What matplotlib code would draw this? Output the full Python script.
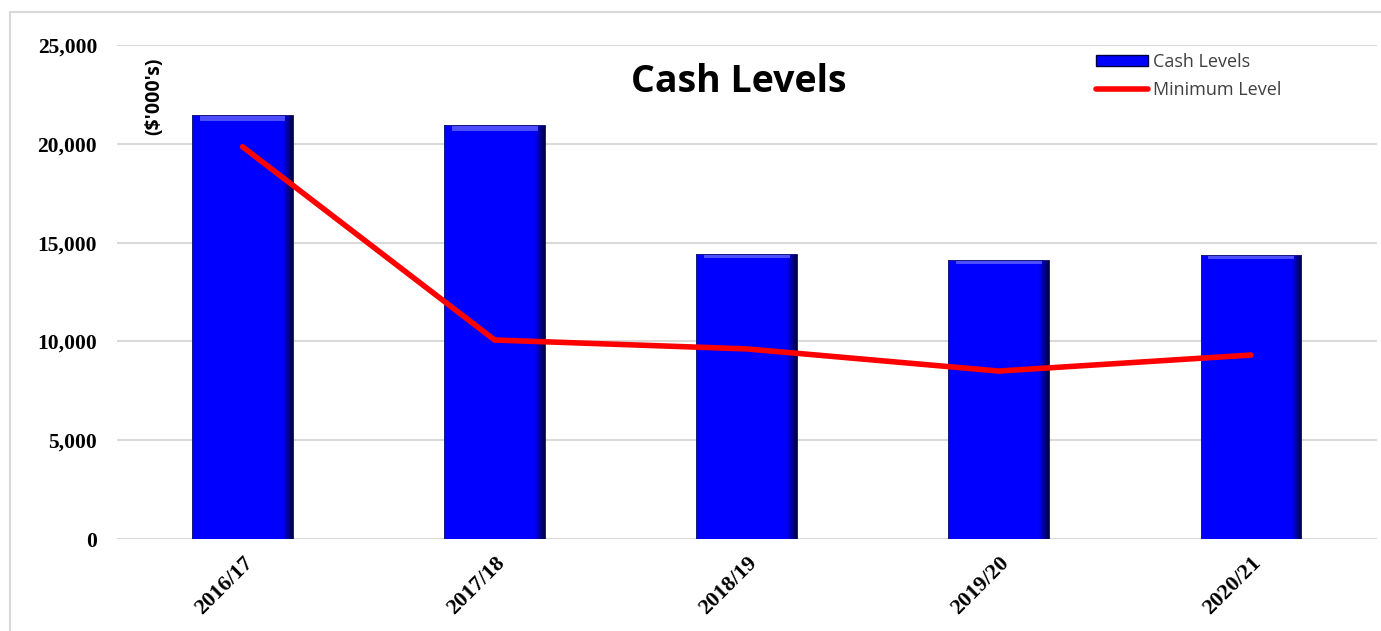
import numpy as np
import matplotlib
matplotlib.use("Agg")
from matplotlib import pyplot as plt
from matplotlib.lines import Line2D
from matplotlib.patches import Patch

years = ["2016/17", "2017/18", "2018/19", "2019/20", "2020/21"]
cash_levels = [21450, 20950, 14420, 14120, 14370]
minimum_level = [19850, 10070, 9620, 8500, 9310]
y_ticks = [0, 5000, 10000, 15000, 20000, 25000]

fig = plt.figure(figsize=(13.81, 6.31), dpi=100)
ax = fig.add_axes([116.5 / 1381, 0.1458, 1260.5 / 1381, 0.7829])

x = np.arange(len(years))
bars = ax.bar(x, cash_levels, width=0.4, color="#0000FF",
              linewidth=0, zorder=2)

# bevel-ish shading: horizontal gradient clipped to each bar
grad = np.linspace(0, 1, 256)
shade = np.clip((grad - 0.9) / 0.1, 0, 1)
img = np.zeros((1, 256, 4))
img[..., 2] = 1.0 - 0.75 * shade
img[..., 3] = 1.0
for b in bars:
    x0, w, h = b.get_x(), b.get_width(), b.get_height()
    im = ax.imshow(img, extent=(x0, x0 + w, 0, h), aspect="auto",
                   interpolation="bilinear", zorder=2.5)
    im.set_clip_path(b)
    # lighter strip at top
    ax.bar(x0 + w / 2, h * 0.012, bottom=h * 0.985, width=w * 0.85,
           color="#4D4DFF", linewidth=0, zorder=2.6)
ax.bar(x, cash_levels, width=0.4, fill=False, edgecolor="#1A1A80",
       linewidth=0.7, zorder=2.7)

ax.plot(x, minimum_level, color="#FF0000", linewidth=4,
        solid_capstyle="round", solid_joinstyle="round", zorder=3)

ax.set_xlim(-0.5, len(years) - 0.5)
ax.set_ylim(0, 25000)
ax.set_yticks(y_ticks)
ax.set_yticklabels([f"{v:,}" for v in y_ticks], family="Liberation Serif",
                   fontweight="bold", fontsize=15.5)
ax.set_xticks(x)
ax.set_xticklabels(years, family="Liberation Serif", fontweight="bold",
                   fontsize=16, rotation=45, ha="right", va="top",
                   rotation_mode="anchor")
ax.tick_params(axis="both", length=0)
ax.tick_params(axis="y", pad=14)
ax.tick_params(axis="x", pad=10)
ax.grid(axis="y", color="#D9D9D9", linewidth=1.5, zorder=0)
ax.set_axisbelow(True)
for s in ax.spines.values():
    s.set_visible(False)

ax.text(0.494, 0.925, "Cash Levels", transform=ax.transAxes, ha="center",
        va="center", fontsize=27, fontweight="bold", family="Open Sans")
ax.text(0.03, 0.975, "($'000's)", transform=ax.transAxes, rotation=90,
        ha="center", va="top", fontsize=14, fontweight="bold",
        family="Open Sans")

handles = [Patch(facecolor="#0000FF", edgecolor="#00003A"),
           Line2D([0], [0], color="#FF0000", linewidth=4,
                  solid_capstyle="round")]
ax.legend(handles, ["Cash Levels", "Minimum Level"], loc="upper left",
          bbox_to_anchor=(0.764, 1.017), frameon=False,
          prop={"family": "Open Sans", "size": 13}, handlelength=2.9,
          handleheight=0.6, handletextpad=0.25, labelspacing=0.58,
          labelcolor="#404040")

# outer chart border (top and left visible)
fig.add_artist(Line2D([10 / 1381, 1.0], [1 - 12 / 631, 1 - 12 / 631],
                      transform=fig.transFigure, color="#D9D9D9", linewidth=1.5))
fig.add_artist(Line2D([10 / 1381, 10 / 1381], [0, 1 - 12 / 631],
                      transform=fig.transFigure, color="#D9D9D9", linewidth=1.5))

fig.savefig("out.png", dpi=100)
